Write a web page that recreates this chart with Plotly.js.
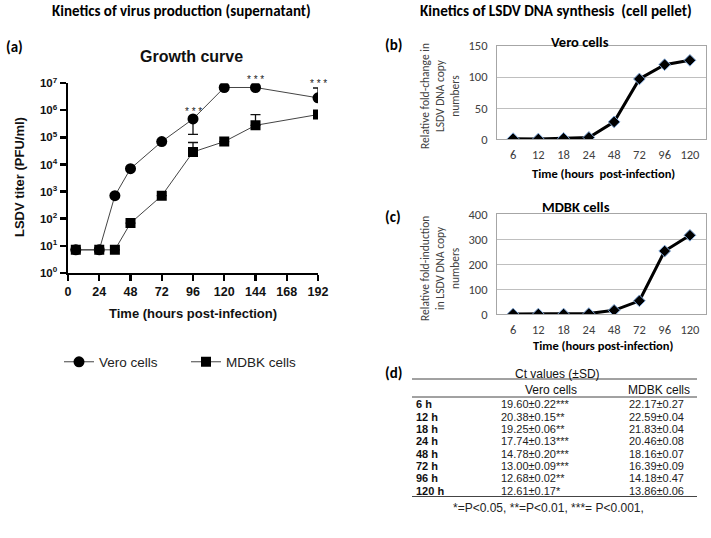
<!DOCTYPE html>
<html>
<head>
<meta charset="utf-8">
<script src="https://cdn.plot.ly/plotly-3.0.1.min.js"></script>
<style>html,body{margin:0;padding:0;background:#fff;}#chart{width:711px;height:538px;}</style>
</head>
<body>
<div id="chart"></div>
<script>
// ---------- DATA ----------
// Panel (a): growth curve (PFU/ml)
const hoursA = [6, 24, 36, 48, 72, 96, 120, 144, 192];
const veroTiter = [7, 7, 700, 7000, 70000, 480000, 7000000, 7000000, 2900000];
const veroErrPlus = [0, 0, 0, 0, 0, 0, 0, 0, 3800000];
const veroErrMinus = [0, 0, 0, 0, 0, 350000, 0, 0, 0];
const mdbkTiter = [7, 7, 7, 68, 700, 29000, 70000, 280000, 700000];
const mdbkErrPlus = [0, 0, 0, 0, 0, 36000, 0, 410000, 0];
const mdbkErrMinus = [0, 0, 0, 0, 0, 0, 0, 0, 0];
const xTicksA = [0, 24, 48, 72, 96, 120, 144, 168, 192];
const yTicksA = [1, 10, 100, 1000, 10000, 100000, 1000000, 10000000];
const yTickTextA = ['0', '1', '2', '3', '4', '5', '6', '7'];
const starIndex = [5, 7, 8];          // Vero points marked *** (96, 144, 192 h)
const starLabel = '* * *';

// Panels (b), (c): relative fold change
const hoursBC = ['6', '12', '18', '24', '48', '72', '96', '120'];
const veroFold = [1, 0.5, 1.5, 3, 28, 97, 120, 127];
const mdbkFold = [1, 1, 1, 3, 16, 54, 253, 316];

// Panel (d): Ct values table
const tableHeader = ['Vero cells', 'MDBK cells'];
const rowLabels = ['6 h', '12 h', '18 h', '24 h', '48 h', '72 h', '96 h', '120 h'];
const veroCt = ['19.60±0.22***', '20.38±0.15**', '19.25±0.06**', '17.74±0.13***', '14.78±0.20***', '13.00±0.09***', '12.68±0.02**', '12.61±0.17*'];
const mdbkCt = ['22.17±0.27', '22.59±0.04', '21.83±0.04', '20.46±0.08', '18.16±0.07', '16.39±0.09', '14.18±0.47', '13.86±0.06'];

// ---------- LAYOUT HELPERS ----------
const W = 711, H = 538;
const px = v => v / W;
const py = v => 1 - v / H;
const ARIAL = 'Arial, "Liberation Sans", sans-serif';
const CAL = 'Carlito, Lato, "Open Sans", sans-serif';

const annotations = [];
function ann(text, x, y, o) {
  annotations.push(Object.assign({
    text: text, x: px(x), y: py(y), xref: 'paper', yref: 'paper',
    showarrow: false, xanchor: 'center', yanchor: 'middle',
    font: {family: ARIAL, size: 12, color: '#000'}
  }, o || {}));
}

// headings
ann('<b>Kinetics of virus production (supernatant)</b>', 181, 11, {font: {family: CAL, size: 15, color: '#000'}});
ann('<b>Kinetics of LSDV DNA synthesis  (cell pellet)</b>', 556, 11, {font: {family: CAL, size: 15.2, color: '#000'}});
ann('<b>(a)</b>', 14, 47, {font: {family: CAL, size: 15, color: '#000'}});
ann('<b>(b)</b>', 393, 45, {font: {family: CAL, size: 15, color: '#000'}});
ann('<b>(c)</b>', 393, 217, {font: {family: CAL, size: 15, color: '#000'}});
ann('<b>(d)</b>', 393, 373, {font: {family: CAL, size: 15, color: '#000'}});

// panel (a) texts
ann('<b>Growth curve</b>', 192, 57, {font: {family: ARIAL, size: 16, color: '#111'}});
ann('<b>Time (hours post-infection)</b>', 193, 313, {font: {family: ARIAL, size: 13, color: '#111'}});
ann('<b>LSDV titer (PFU/ml)</b>', 19, 177, {textangle: -90, font: {family: ARIAL, size: 13, color: '#111'}});
const starShift = [7, 8, 14];
starIndex.forEach((idx, i) => {
  annotations.push({text: starLabel, x: hoursA[idx], y: Math.log10(veroTiter[idx]), xref: 'x', yref: 'y',
    yshift: starShift[i], showarrow: false, xanchor: 'center', yanchor: 'middle',
    font: {family: ARIAL, size: 10, color: '#222'}});
});

// panel (b)/(c) texts
ann('<b>Vero cells</b>', 580, 42, {font: {family: CAL, size: 14.5, color: '#000'}});
ann('<b>MDBK cells</b>', 576, 207, {font: {family: CAL, size: 14.5, color: '#000'}});
ann('Relative fold-change in<br>LSDV DNA copy<br>numbers', 440, 96, {textangle: -90, font: {family: CAL, size: 11.5, color: '#404040'}});
ann('Relative fold-induction<br>in LSDV DNA copy<br>numbers', 440, 269, {textangle: -90, font: {family: CAL, size: 11.5, color: '#404040'}});
ann('<b>Time (hours  post-infection)</b>', 603, 173, {font: {family: CAL, size: 12.5, color: '#000'}});
ann('<b>Time (hours post-infection)</b>', 603, 345, {font: {family: CAL, size: 12.5, color: '#000'}});

// panel (d) table
ann('Ct values (±SD)', 557, 373.5, {font: {family: ARIAL, size: 12, color: '#111'}});
ann(tableHeader[0], 551, 389.5, {font: {family: ARIAL, size: 12, color: '#111'}});
ann(tableHeader[1], 659, 389.5, {font: {family: ARIAL, size: 12, color: '#111'}});
const rowY0 = 404.3, rowStep = 12.35;
const cellOpts = bold => ({xanchor: 'left', borderpad: 0,
  font: {family: ARIAL, size: 11, color: bold ? '#111' : '#222', weight: bold ? 'bold' : 'normal'}});
rowLabels.forEach((r, i) => {
  const y = rowY0 + i * rowStep;
  ann(r, 415, y, cellOpts(true));
  ann(veroCt[i], 500, y, cellOpts(false));
  ann(mdbkCt[i], 628, y, cellOpts(false));
});
ann('*=P<0.05, **=P<0.01, ***= P<0.001,', 548, 508, {font: {family: ARIAL, size: 12, color: '#222'}});

const shapes = [379, 397, 496.5].map(y => ({
  type: 'line', xref: 'paper', yref: 'paper', x0: px(412), x1: px(697), y0: py(y), y1: py(y),
  line: {color: '#444', width: 1}
}));

// ---------- TRACES ----------
const traces = [
  {x: hoursA, y: veroTiter, name: 'Vero cells', mode: 'lines+markers', xaxis: 'x', yaxis: 'y',
   line: {color: '#444', width: 1}, marker: {symbol: 'circle', size: 11, color: '#000'},
   error_y: {type: 'data', symmetric: false, array: veroErrPlus, arrayminus: veroErrMinus, color: '#111', thickness: 1.3, width: 5}},
  {x: hoursA, y: mdbkTiter, name: 'MDBK cells', mode: 'lines+markers', xaxis: 'x', yaxis: 'y',
   line: {color: '#444', width: 1}, marker: {symbol: 'square', size: 10, color: '#000'},
   error_y: {type: 'data', symmetric: false, array: mdbkErrPlus, arrayminus: mdbkErrMinus, color: '#111', thickness: 1.3, width: 5}},
  {x: hoursBC, y: veroFold, mode: 'lines+markers', xaxis: 'x2', yaxis: 'y2', showlegend: false,
   line: {color: '#000', width: 3}, marker: {symbol: 'diamond', size: 9, color: '#000', line: {color: '#7fa7d9', width: 1}}},
  {x: hoursBC, y: mdbkFold, mode: 'lines+markers', xaxis: 'x3', yaxis: 'y3', showlegend: false,
   line: {color: '#000', width: 3}, marker: {symbol: 'diamond', size: 9, color: '#000', line: {color: '#7fa7d9', width: 1}}}
];

const excelX = {
  type: 'category', showgrid: false, zeroline: false, showline: true, linecolor: '#a6a6a6', linewidth: 1, mirror: true,
  ticks: '', tickfont: {family: CAL, size: 12.5, color: '#404040'}, ticklabelstandoff: 4
};
const excelY = {
  showgrid: true, gridcolor: '#bfbfbf', gridwidth: 1, zeroline: false, showline: true, linecolor: '#a6a6a6', linewidth: 1, mirror: true,
  ticks: '', tickfont: {family: CAL, size: 12.5, color: '#404040'}, ticklabelstandoff: 6
};

const layout = {
  width: W, height: H, margin: {l: 0, r: 0, t: 0, b: 0},
  paper_bgcolor: '#fff', plot_bgcolor: 'rgba(0,0,0,0)',
  showlegend: true,
  legend: {orientation: 'h', x: px(59), y: py(362), xanchor: 'left', yanchor: 'middle',
    font: {family: ARIAL, size: 13.5, color: '#222'}, entrywidth: 82, entrywidthmode: 'pixels', bgcolor: 'rgba(0,0,0,0)'},
  xaxis: {domain: [px(68), px(318)], range: [0, 192], anchor: 'y', tickvals: xTicksA,
    ticktext: xTicksA.map(v => String(v)), ticks: 'outside', ticklen: 6, tickwidth: 2.2, tickcolor: '#000',
    showline: true, linewidth: 2.5, linecolor: '#000', showgrid: false, zeroline: false,
    tickfont: {family: ARIAL, size: 12.5, color: '#111', weight: 'bold'}},
  yaxis: {domain: [py(272.7), py(83.3)], type: 'log', range: [0, 7], anchor: 'x', tickvals: yTicksA,
    ticktext: yTickTextA.map(e => '10<sup>' + e + '</sup>'), ticks: 'outside', ticklen: 6, tickwidth: 2.2, tickcolor: '#000',
    showline: true, linewidth: 2.5, linecolor: '#000', showgrid: false, zeroline: false,
    tickfont: {family: ARIAL, size: 11.5, color: '#111', weight: 'bold'}},
  xaxis2: Object.assign({}, excelX, {domain: [px(497), px(706)], anchor: 'y2'}),
  yaxis2: Object.assign({}, excelY, {domain: [py(139.3), py(46)], range: [0, 150], dtick: 50, anchor: 'x2'}),
  xaxis3: Object.assign({}, excelX, {domain: [px(497), px(706)], anchor: 'y3'}),
  yaxis3: Object.assign({}, excelY, {domain: [py(314.3), py(214.3)], range: [0, 400], dtick: 100, anchor: 'x3'}),
  annotations: annotations,
  shapes: shapes
};

Plotly.newPlot('chart', traces, layout, {displayModeBar: false, staticPlot: true});
</script>
</body>
</html>
